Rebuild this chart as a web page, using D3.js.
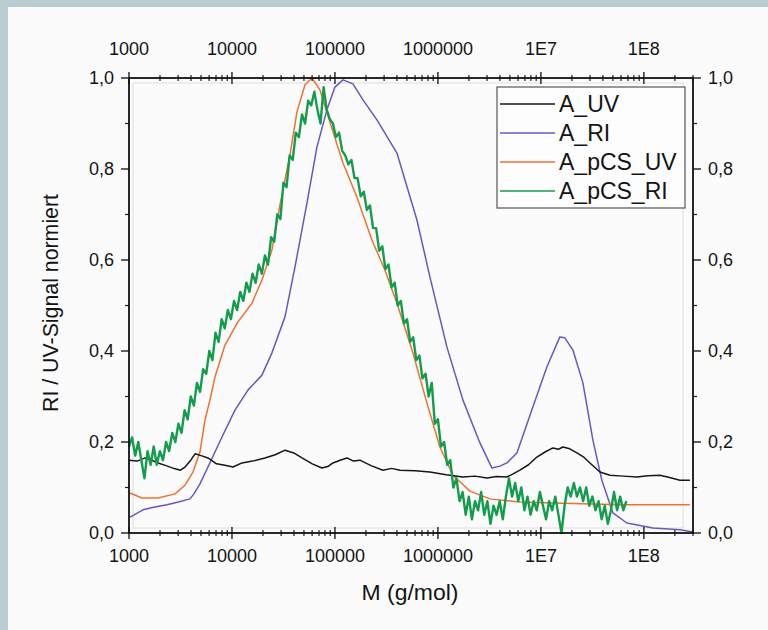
<!DOCTYPE html>
<meta charset="utf-8">
<style>
    body {
        margin: 0;
        background-color: #fbfbfb;
    }

    svg {
        display: block;
    }

    text {
        font-family: "Liberation Sans", Arial, sans-serif;
        fill: #141414;
    }

    .tick-label {
        font-size: 18px;
    }

    .axis-title {
        font-size: 22px;
    }

    .legend text {
        font-size: 23px;
    }
</style>
<svg width="768" height="630"></svg>
<script src="https://d3js.org/d3.v7.min.js"></script>
<script>
    // x values are log10(M), y values are the normalised signal
    var uvLogM = [3.00, 3.08, 3.155, 3.22, 3.282, 3.36, 3.447, 3.5, 3.544, 3.6, 3.641, 3.70, 3.767, 3.85, 3.932, 4.01, 4.097,
        4.2, 4.32, 4.42, 4.515, 4.6, 4.68, 4.78, 4.874, 4.93, 4.981, 5.05, 5.117, 5.18, 5.243, 5.35, 5.466, 5.55, 5.631,
        5.78, 5.922, 6.08, 6.243, 6.36, 6.476, 6.57, 6.670, 6.73, 6.796, 6.88, 6.961, 7.04, 7.117, 7.17, 7.214, 7.28,
        7.350, 7.42, 7.476, 7.573, 7.670, 7.80, 7.932, 8.04, 8.155, 8.25, 8.350, 8.447
    ];
    var uvSignal = [0.160, 0.158, 0.165, 0.160, 0.154, 0.148, 0.141, 0.138, 0.145, 0.160, 0.174, 0.170, 0.165, 0.152,
        0.149, 0.145, 0.154, 0.158, 0.165, 0.172, 0.182, 0.176, 0.165, 0.152, 0.143, 0.146, 0.154, 0.160, 0.165, 0.158,
        0.160, 0.148, 0.138, 0.142, 0.138, 0.137, 0.134, 0.128, 0.123, 0.125, 0.121, 0.124, 0.123, 0.130, 0.138, 0.150,
        0.167, 0.178, 0.187, 0.184, 0.189, 0.185, 0.176, 0.166, 0.154, 0.134, 0.127, 0.125, 0.123, 0.126, 0.127, 0.122,
        0.116, 0.116
    ];

    var riLogM = [3.010, 3.136, 3.25, 3.369, 3.48, 3.592, 3.631, 3.689, 3.767, 3.835, 3.903, 4.029, 4.155, 4.291, 4.388,
        4.515, 4.612, 4.728, 4.825, 4.922, 5.000, 5.078, 5.175, 5.272, 5.408, 5.602, 5.796, 5.922, 6.087, 6.243, 6.408,
        6.524, 6.602, 6.670, 6.767, 6.922, 7.058, 7.184, 7.233, 7.311, 7.408, 7.505, 7.592, 7.699, 7.835, 8.087, 8.350,
        8.476
    ];
    var riSignal = [0.035, 0.051, 0.057, 0.062, 0.068, 0.075, 0.086, 0.108, 0.145, 0.178, 0.211, 0.270, 0.314, 0.347,
        0.396, 0.475, 0.585, 0.725, 0.848, 0.930, 0.980, 0.996, 0.987, 0.952, 0.908, 0.835, 0.688, 0.563, 0.409, 0.292,
        0.198, 0.143, 0.147, 0.154, 0.176, 0.277, 0.365, 0.431, 0.429, 0.402, 0.330, 0.204, 0.116, 0.044, 0.022, 0.011,
        0.007, 0.002
    ];

    var pcsUvLogM = [3.010, 3.126, 3.282, 3.447, 3.544, 3.621, 3.689, 3.738, 3.786, 3.835, 3.932, 4.058, 4.194, 4.291,
        4.388, 4.466, 4.563, 4.631, 4.709, 4.777, 4.854, 4.951, 5.078, 5.214, 5.359, 5.485, 5.602, 5.757, 5.893, 6.019,
        6.146, 6.311, 6.505, 6.796, 7.117, 7.767, 8.447
    ];
    var pcsUvSignal = [0.088, 0.077, 0.077, 0.086, 0.105, 0.134, 0.178, 0.248, 0.292, 0.343, 0.413, 0.464, 0.505, 0.556,
        0.622, 0.721, 0.831, 0.925, 0.985, 1.000, 0.974, 0.903, 0.813, 0.738, 0.644, 0.578, 0.505, 0.396, 0.286, 0.189,
        0.127, 0.092, 0.075, 0.068, 0.066, 0.062, 0.062
    ];

    // A_pCS_RI sampled every 0.03 decades from log10(M) = 3
    var pcsRiStart = 3.0,
        pcsRiStep = 0.03;
    var pcsRiSignal = [
        0.19, 0.21, 0.17, 0.20, 0.16, 0.12, 0.18, 0.15, 0.19, 0.15,
        0.18, 0.16, 0.20, 0.18, 0.22, 0.20, 0.24, 0.22, 0.27, 0.25,
        0.30, 0.28, 0.33, 0.31, 0.36, 0.35, 0.40, 0.38, 0.44, 0.42,
        0.47, 0.45, 0.49, 0.47, 0.51, 0.49, 0.53, 0.51, 0.55, 0.53,
        0.57, 0.55, 0.59, 0.57, 0.61, 0.59, 0.65, 0.64, 0.70, 0.69,
        0.77, 0.76, 0.83, 0.82, 0.88, 0.87, 0.92, 0.90, 0.95, 0.94,
        0.97, 0.93, 0.90, 0.98, 0.93, 0.91, 0.90, 0.87, 0.88, 0.84,
        0.83, 0.81, 0.82, 0.78, 0.78, 0.74, 0.75, 0.71, 0.72, 0.67,
        0.67, 0.62, 0.63, 0.58, 0.59, 0.54, 0.55, 0.50, 0.51, 0.46,
        0.47, 0.42, 0.43, 0.38, 0.39, 0.34, 0.35, 0.30, 0.33, 0.24,
        0.25, 0.19, 0.20, 0.15, 0.16, 0.10, 0.12, 0.07, 0.09, 0.04,
        0.08, 0.03, 0.07, 0.05, 0.09, 0.04, 0.07, 0.02, 0.06, 0.04,
        0.07, 0.03, 0.08, 0.12, 0.08, 0.11, 0.07, 0.10, 0.05, 0.08,
        0.04, 0.07, 0.05, 0.09, 0.06, 0.03, 0.07, 0.05, 0.08, 0.04,
        0.00, 0.06, 0.10, 0.08, 0.11, 0.08, 0.10, 0.07, 0.10, 0.06,
        0.08, 0.05, 0.07, 0.03, 0.06, 0.02, 0.05, 0.09, 0.05, 0.08,
        0.05, 0.07
    ];

    var seriesNames = ["A_UV", "A_RI", "A_pCS_UV", "A_pCS_RI"];
    var seriesColors = ["#161616", "#6558c4", "#f2702e", "#129c4c"];

    var xMajor = [1e3, 1e4, 1e5, 1e6, 1e7, 1e8];
    var xMajorLabels = ["1000", "10000", "100000", "1000000", "1E7", "1E8"];
    var yMajor = [0, 0.2, 0.4, 0.6, 0.8, 1.0];
    var yMajorLabels = ["0,0", "0,2", "0,4", "0,6", "0,8", "1,0"];
    var yMinor = [0.1, 0.3, 0.5, 0.7, 0.9];

    var svg = d3.select("svg"),
        width = +svg.attr("width"),
        height = +svg.attr("height");

    var plotLeft = 129,
        plotRight = 693,
        plotTop = 78,
        plotBottom = 533;

    var x = d3.scaleLog().domain([1000, 3e8]).range([plotLeft, plotRight]);
    var y = d3.scaleLinear().domain([0, 1]).range([plotBottom, plotTop]);

    // page frame
    svg.append("rect").attr("width", width).attr("height", height).attr("fill", "#fbfbfb");
    svg.append("rect").attr("width", width).attr("height", 7).attr("fill", "#b9ccd0");
    svg.append("rect").attr("width", 8).attr("height", height).attr("fill", "#b9ccd0");

    // faint inner frame of the original plot
    svg.append("rect")
        .attr("x", plotLeft + 4).attr("y", plotTop + 5)
        .attr("width", plotRight - plotLeft - 14).attr("height", plotBottom - plotTop - 10)
        .attr("fill", "none").attr("stroke", "#dedede").attr("stroke-width", 1);

    function toPoints(lg, vals) {
        return lg.map(function(d, i) {
            return [Math.pow(10, d), vals[i]];
        });
    }

    var pcsRiPoints = pcsRiSignal.map(function(v, i) {
        return [Math.pow(10, pcsRiStart + i * pcsRiStep), v];
    });

    var series = [
        toPoints(uvLogM, uvSignal),
        toPoints(riLogM, riSignal),
        toPoints(pcsUvLogM, pcsUvSignal),
        pcsRiPoints
    ];

    var line = d3.line()
        .x(function(d) { return x(d[0]); })
        .y(function(d) { return y(d[1]); });

    var drawOrder = [1, 2, 0, 3];
    svg.append("g")
        .selectAll("path")
        .data(drawOrder)
        .enter().append("path")
        .attr("d", function(i) { return line(series[i]); })
        .attr("fill", "none")
        .attr("stroke", function(i) { return seriesColors[i]; })
        .attr("stroke-width", function(i) { return i === 3 ? 2.4 : 1.5; })
        .attr("stroke-linejoin", "round");

    // axes
    var xMinor = x.ticks().filter(function(t) {
        return xMajor.indexOf(t) < 0;
    });

    function xAxisAt(yPos, labelY) {
        var g = svg.append("g").attr("class", "x-axis");
        g.selectAll("line.minor")
            .data(xMinor)
            .enter().append("line")
            .attr("x1", function(d) { return x(d); })
            .attr("x2", function(d) { return x(d); })
            .attr("y1", yPos - 3).attr("y2", yPos + 3)
            .attr("stroke", "#1e1e1e").attr("stroke-width", 1.2);
        g.selectAll("line.major")
            .data(xMajor)
            .enter().append("line")
            .attr("x1", function(d) { return x(d); })
            .attr("x2", function(d) { return x(d); })
            .attr("y1", yPos - 6).attr("y2", yPos + 6)
            .attr("stroke", "#1e1e1e").attr("stroke-width", 1.4);
        g.selectAll("text")
            .data(xMajor)
            .enter().append("text")
            .attr("class", "tick-label")
            .attr("x", function(d) { return x(d); })
            .attr("y", labelY)
            .attr("text-anchor", "middle")
            .text(function(d, i) { return xMajorLabels[i]; });
    }

    function yAxisAt(xPos, dir, anchor) {
        var g = svg.append("g").attr("class", "y-axis");
        g.selectAll("line.major")
            .data(yMajor)
            .enter().append("line")
            .attr("x1", xPos).attr("x2", xPos + dir * 8)
            .attr("y1", function(d) { return y(d); })
            .attr("y2", function(d) { return y(d); })
            .attr("stroke", "#1e1e1e").attr("stroke-width", 1.4);
        g.selectAll("line.minor")
            .data(yMinor)
            .enter().append("line")
            .attr("x1", xPos).attr("x2", xPos + dir * 4)
            .attr("y1", function(d) { return y(d); })
            .attr("y2", function(d) { return y(d); })
            .attr("stroke", "#1e1e1e").attr("stroke-width", 1.2);
        g.selectAll("text")
            .data(yMajor)
            .enter().append("text")
            .attr("class", "tick-label")
            .attr("x", xPos + dir * 15)
            .attr("y", function(d) { return y(d) + 6; })
            .attr("text-anchor", anchor)
            .text(function(d, i) { return yMajorLabels[i]; });
    }

    xAxisAt(plotBottom, 562);
    xAxisAt(plotTop, 55);
    yAxisAt(plotLeft, -1, "end");
    yAxisAt(plotRight, 1, "start");

    svg.append("rect")
        .attr("x", plotLeft).attr("y", plotTop)
        .attr("width", plotRight - plotLeft).attr("height", plotBottom - plotTop)
        .attr("fill", "none").attr("stroke", "#111").attr("stroke-width", 1.8);

    svg.append("text")
        .attr("class", "axis-title")
        .attr("x", 410).attr("y", 600)
        .attr("text-anchor", "middle")
        .attr("textLength", 97)
        .attr("lengthAdjust", "spacingAndGlyphs")
        .text("M (g/mol)");

    svg.append("text")
        .attr("class", "axis-title")
        .attr("transform", "translate(58,303) rotate(-90)")
        .attr("text-anchor", "middle")
        .attr("textLength", 218)
        .attr("lengthAdjust", "spacingAndGlyphs")
        .text("RI / UV-Signal normiert");

    // legend
    var legend = svg.append("g").attr("class", "legend");
    legend.append("rect")
        .attr("x", 497).attr("y", 87)
        .attr("width", 188).attr("height", 121)
        .attr("fill", "#fdfdfd").attr("stroke", "#555").attr("stroke-width", 1.2);

    var item = legend.selectAll("g.item")
        .data(seriesNames)
        .enter().append("g")
        .attr("transform", function(d, i) {
            return "translate(0," + (104 + i * 29) + ")";
        });
    item.append("line")
        .attr("x1", 500).attr("x2", 555)
        .attr("stroke", function(d, i) { return seriesColors[i]; })
        .attr("stroke-width", 1.5);
    item.append("text")
        .attr("x", 559).attr("y", 8)
        .text(function(d) { return d; });
</script>
